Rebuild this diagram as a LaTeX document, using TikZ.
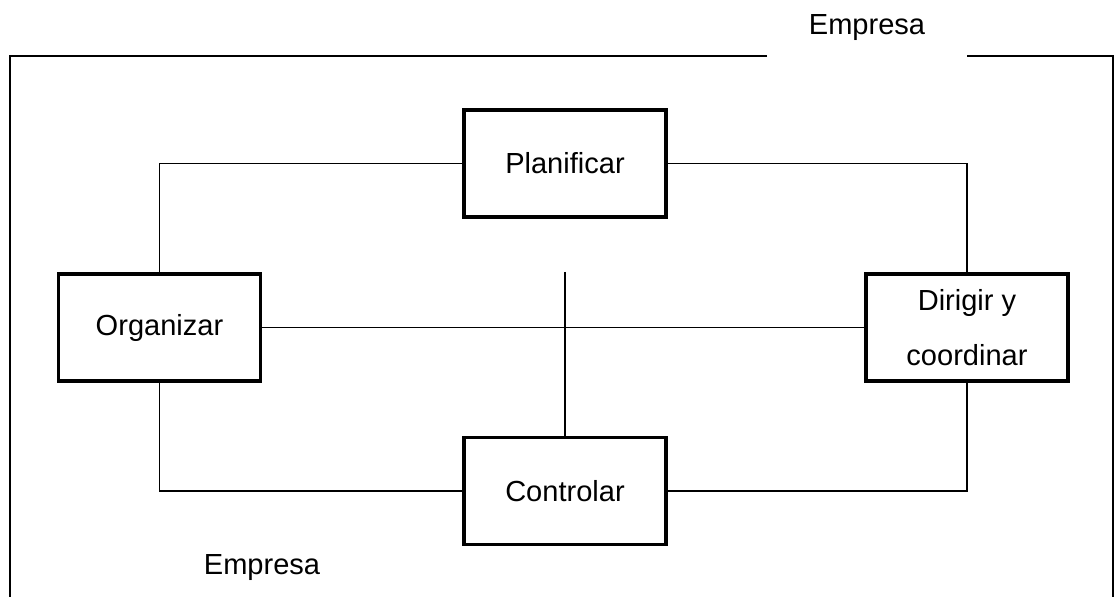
\documentclass[tikz,border=0pt]{standalone}
\usepackage{fontspec}
\setmainfont{Liberation Sans}
\usetikzlibrary{positioning}
\begin{document}
\begin{tikzpicture}[x=0.42pt, y=-0.42pt,
		Caja/.style={draw, line width=1.5pt, fill=white, minimum width=85pt, minimum height=45pt, outer sep=0pt, font=\fontsize{12.2}{23}\selectfont, align=center},
		Linea/.style={line width=0.5pt}]
		\useasboundingbox (0,0) rectangle (1115,597);
		% marco de la empresa
		\draw[Linea] (767,56) -- (10,56) -- (10,597);
		\draw[Linea] (967,56) -- (1113,56) -- (1113,597);
		\node (emp1) at (867,28) {\fontsize{12.2}{14}\selectfont Empresa};
		\node (emp2) at (262,568) {\fontsize{12.2}{14}\selectfont Empresa};
		% funciones
		\node[Caja] (plan) at (565,163.5) {Planificar};
		\node[Caja] (org) at (159.5,327.5) {Organizar};
		\node[Caja] (dir) at (967,327.5) {Dirigir y\\coordinar};
		\node[Caja] (ctrl) at (565,491) {Controlar};
		\coordinate (cruce) at (565,272);
		\draw[Linea] (plan.west) -| (org.north);
		\draw[Linea] (plan.east) -| (dir.north);
		\draw[Linea] (org.south) |- (ctrl.west);
		\draw[Linea] (dir.south) |- (ctrl.east);
		\draw[Linea] (org.east) -- (dir.west);
		\draw[Linea] (cruce) -- (ctrl.north);
	\end{tikzpicture}
\end{document}
